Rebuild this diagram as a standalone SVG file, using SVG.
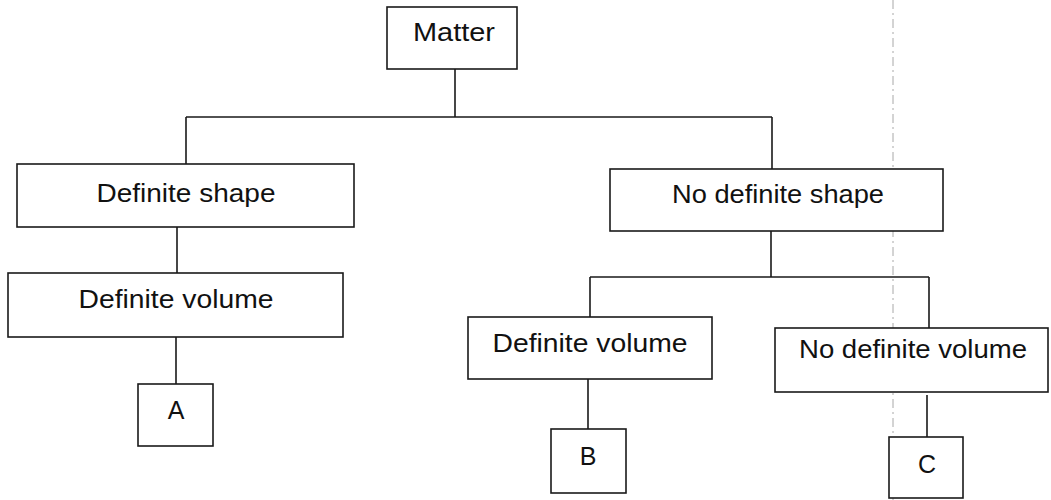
<svg xmlns="http://www.w3.org/2000/svg" width="1051" height="500" viewBox="0 0 1051 500">
<style>
.box{fill:#fff;stroke:#1a1a1a;stroke-width:1.6}
.lbl{font-family:"Liberation Sans",Arial,sans-serif;font-size:25px;fill:#111;text-anchor:middle}
.con{fill:none;stroke:#1a1a1a;stroke-width:1.6}
.fold{fill:none;stroke:#a8a8a8;stroke-width:1;stroke-dasharray:9 4 2 4}
</style>
<rect width="1051" height="500" fill="#fff"/>
<line class="fold" x1="893" y1="0" x2="893" y2="500"/>
<g id="connectors">
<path class="con" d="M455 69V117M186 117H772M186 117V164M772 117V169"/>
<path class="con" d="M177 227V273M176 337V384"/>
<path class="con" d="M771 231V277M590 277H929M590 277V317M929 277V328"/>
<path class="con" d="M588 379V429M927 395V437"/>
</g>
<g id="matter"><rect class="box" x="387" y="7" width="130" height="62"/><text class="lbl" x="454" y="41" textLength="82" lengthAdjust="spacingAndGlyphs">Matter</text></g>
<g id="definite-shape"><rect class="box" x="17" y="164" width="337" height="63"/><text class="lbl" x="186" y="202" textLength="179" lengthAdjust="spacingAndGlyphs">Definite shape</text></g>
<g id="no-definite-shape"><rect class="box" x="610" y="169" width="333" height="62"/><text class="lbl" x="778" y="203" textLength="212" lengthAdjust="spacingAndGlyphs">No definite shape</text></g>
<g id="definite-volume-1"><rect class="box" x="8" y="273" width="335" height="64"/><text class="lbl" x="176" y="308" textLength="195" lengthAdjust="spacingAndGlyphs">Definite volume</text></g>
<g id="definite-volume-2"><rect class="box" x="468" y="317" width="244" height="62"/><text class="lbl" x="590" y="352" textLength="195" lengthAdjust="spacingAndGlyphs">Definite volume</text></g>
<g id="no-definite-volume"><rect class="box" x="775" y="328" width="273" height="64"/><text class="lbl" x="913" y="358" textLength="228" lengthAdjust="spacingAndGlyphs">No definite volume</text></g>
<g id="a"><rect class="box" x="138" y="384" width="75" height="62"/><text class="lbl" x="176" y="419">A</text></g>
<g id="b"><rect class="box" x="551" y="429" width="75" height="64"/><text class="lbl" x="588" y="465">B</text></g>
<g id="c"><rect class="box" x="889" y="437" width="74" height="61"/><text class="lbl" x="927" y="473">C</text></g>
</svg>
